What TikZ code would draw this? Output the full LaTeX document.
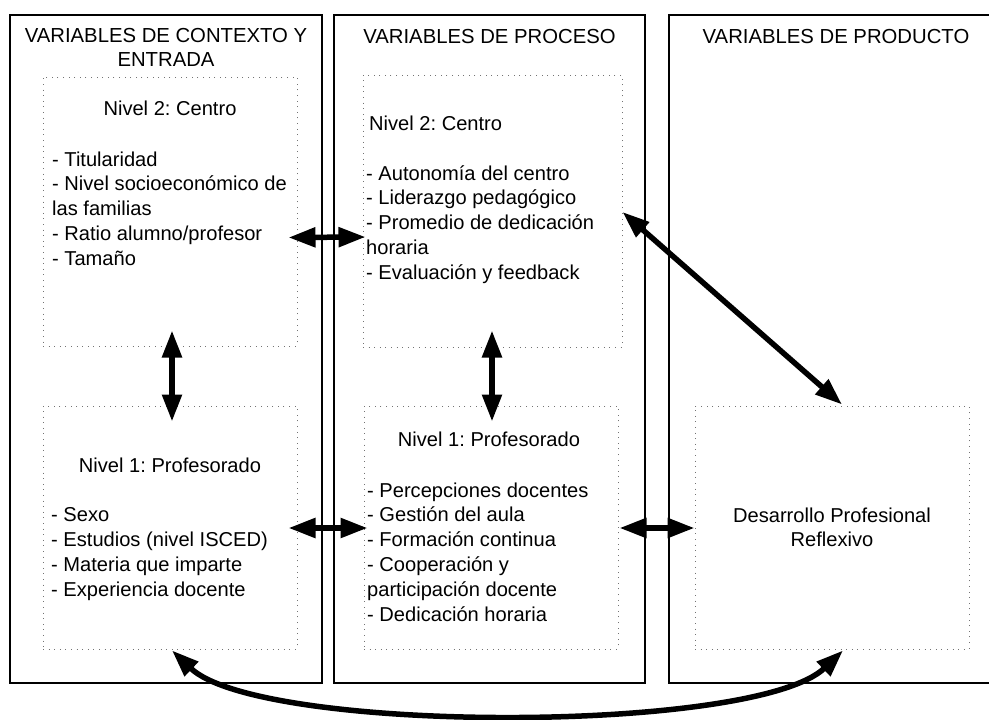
\documentclass[tikz,border=0pt]{standalone}
\usepackage{fontspec}
\setmainfont{Liberation Sans}
\usetikzlibrary{arrows.meta}
\frenchspacing

\tikzset{
  column/.style={draw, line width=1.3pt, rectangle, inner sep=0pt, minimum height=668pt},
  level/.style={draw=black!55, line width=1pt, dash pattern=on 1pt off 4.6pt, rectangle, inner sep=0pt},
  txt/.style={inner sep=0pt, align=left, font=\fontsize{20.1}{24.8}\selectfont},
  head/.style={inner sep=0pt, align=center, anchor=base, font=\fontsize{20.3}{23.5}\selectfont},
  twoway/.style={{Triangle[length=27pt,width=19pt]}-{Triangle[length=27pt,width=19pt]}, line width=5.5pt},
}

\begin{document}
\begin{tikzpicture}[x=1pt, y=-1pt]
    \clip (0,0) rectangle (989,720);

    \node[column, minimum width=312pt] (ctx) at (166,349) {};
    \node[column, minimum width=311pt] (proc) at (489.5,349) {};
    \node[column, minimum width=334pt] (prod) at (836,349) {};

    % base of a multi-line node is its last line
    \node[head] (ctxhead) at (166,66) {VARIABLES DE CONTEXTO Y\\ENTRADA};
    \node[head] (prochead) at (489.5,43) {VARIABLES DE PROCESO};
    \node[head] (prodhead) at (836,43) {VARIABLES DE PRODUCTO};

    \node[level, minimum width=254pt, minimum height=269pt] (ctxcentro) at (170,211.5) {};
    \node[level, minimum width=254pt, minimum height=243pt] (ctxprof) at (170,527.5) {};
    \node[level, minimum width=259pt, minimum height=272pt] (proccentro) at (492.5,211) {};
    \node[level, minimum width=254pt, minimum height=243pt] (procprof) at (491,527.5) {};
    \node[level, minimum width=274pt, minimum height=243pt] (prodrefl) at (832,527.5) {};

    \node[txt, anchor=base] (ctxcentrotitle) at (170,115) {Nivel 2: Centro};
    \node[txt, anchor=base west] (ctxcentrolist) at (52,265.2) {- Titularidad\\- Nivel socioeconómico de\\las familias\\- Ratio alumno/profesor\\- Tamaño};
    \node[txt, anchor=base] (ctxproftitle) at (170,472) {Nivel 1: Profesorado};
    \node[txt, anchor=base west] (ctxproflist) at (51,596) {- Sexo\\- Estudios (nivel ISCED)\\- Materia que imparte\\- Experiencia docente};

    \node[txt, anchor=base west] (proccentrotitle) at (369,130) {Nivel 2: Centro};
    \node[txt, anchor=base west] (proccentrolist) at (366,279.2) {- Autonomía del centro\\- Liderazgo pedagógico\\- Promedio de dedicación\\horaria\\- Evaluación y feedback};
    \node[txt, anchor=base] (procproftitle) at (489,446.5) {Nivel 1: Profesorado};
    \node[txt, anchor=base west] (procproflist) at (367,621) {- Percepciones docentes\\- Gestión del aula\\- Formación continua\\- Cooperación y\\participación docente\\- Dedicación horaria};

    \node[txt, align=center, anchor=base] (prodrefltext) at (832,546.8) {Desarrollo Profesional\\Reflexivo};

    \draw[twoway] ([shift={(-9,26)}]ctxcentro.east) -- ([shift={(3,26)}]proccentro.west);
    \draw[twoway] ([shift={(2,-16)}]ctxcentro.south) -- ([shift={(2,16)}]ctxprof.north);
    \draw[twoway] ([shift={(-0.5,-17)}]proccentro.south) -- ([shift={(1,16)}]procprof.north);
    \draw[twoway] ([shift={(-9,0.5)}]ctxprof.east) -- ([shift={(4,0.5)}]procprof.west);
    \draw[twoway] ([shift={(1,0.5)}]procprof.east) -- ([shift={(0,0.5)}]prodrefl.west);
    \draw[twoway] ([shift={(0,1)}]proccentro.east) -- ([shift={(10,-1)}]prodrefl.north);
    \draw[twoway] ([shift={(2,1)}]ctxprof.south) .. controls (260,734) and (755,734) .. ([shift={(11,1)}]prodrefl.south);
\end{tikzpicture}
\end{document}
